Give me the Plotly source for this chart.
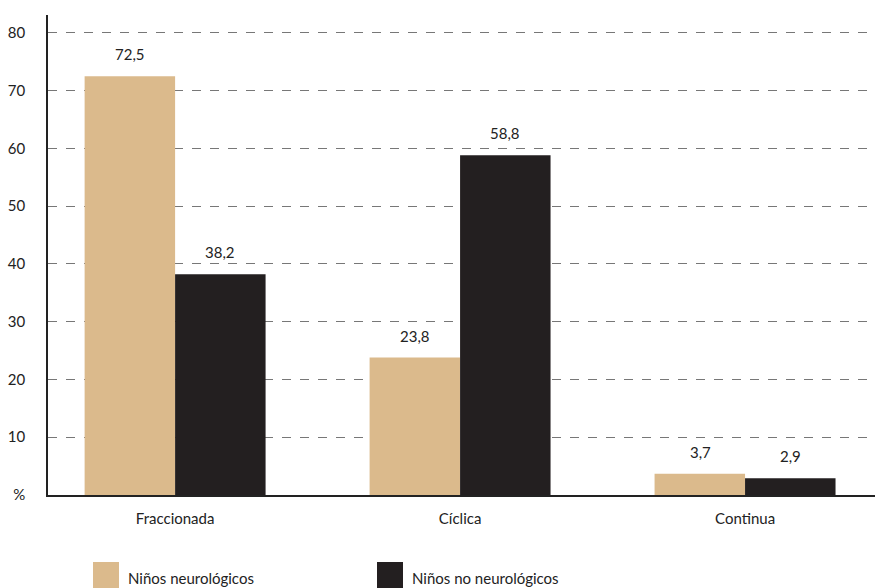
import plotly.graph_objects as go

categories = ["Fraccionada", "Cíclica", "Continua"]
neuro = [72.5, 23.8, 3.7]
no_neuro = [38.2, 58.8, 2.9]
series_names = ["Niños neurológicos", "Niños no neurológicos"]
colors = ["#DBBA8C", "#231F20"]
ytick_vals = [0, 10, 20, 30, 40, 50, 60, 70, 80]
ytick_text = ["%", "10", "20", "30", "40", "50", "60", "70", "80"]

FONT = "Lato, 'Open Sans', sans-serif"

fig = go.Figure()
for name, vals, col in zip(series_names, [neuro, no_neuro], colors):
    fig.add_trace(go.Bar(
        x=categories, y=vals, name=name, marker=dict(color=col, line=dict(width=0)),
        showlegend=False,
    ))

# value labels placed above bars
for vals, shift in zip([neuro, no_neuro], [-45, 45]):
    for c, v in zip(categories, vals):
        fig.add_annotation(x=c, y=v, xref="x", yref="y", text=f"{v:.1f}".replace(".", ","),
                           showarrow=False, xshift=shift, yshift=22, yanchor="middle",
                           font=dict(size=15, family=FONT, color="#222"))

W, H = 875, 588
ml, mr, mt, mb = 48, 0, 15, 93
fig.update_layout(
    width=W, height=H, margin=dict(l=ml, r=mr, t=mt, b=mb),
    paper_bgcolor="white", plot_bgcolor="white",
    barmode="group", bargap=0.365, bargroupgap=0,
    font=dict(family=FONT, size=15, color="#222"),
)
fig.update_xaxes(
    type="category", range=[-0.446, 2.456], showline=True, linecolor="#222", linewidth=1.5,
    ticks="", showgrid=False, tickfont=dict(size=15, family=FONT, color="#222"),
    ticklabelstandoff=9,
)
fig.update_yaxes(
    range=[0, 83.1], tickvals=ytick_vals, ticktext=ytick_text, showline=True,
    linecolor="#222", linewidth=1.5, showgrid=True, gridcolor="#777", griddash="dash",
    gridwidth=1, ticks="", tickfont=dict(size=15, family=FONT, color="#222"),
    ticklabelstandoff=18, zeroline=False,
)

# Legend drawn manually
pw = W - ml - mr
ph = H - mt - mb
def px_to_paper(x, y):
    return (x - ml) / pw, (H - mb - y) / ph

legend_x = [93, 377]
for lx, name, col in zip(legend_x, series_names, colors):
    x0, y0 = px_to_paper(lx, 562)
    x1, y1 = px_to_paper(lx + 26, 590)
    fig.add_shape(type="rect", xref="paper", yref="paper", x0=x0, x1=x1, y0=y1, y1=y0,
                  fillcolor=col, line=dict(width=0), layer="above")
    tx, ty = px_to_paper(lx + 33, 578)
    fig.add_annotation(xref="paper", yref="paper", x=tx, y=ty, text=name, showarrow=False,
                       xanchor="left", yanchor="middle", font=dict(size=15, family=FONT, color="#222"))

fig.write_html("out.html")
